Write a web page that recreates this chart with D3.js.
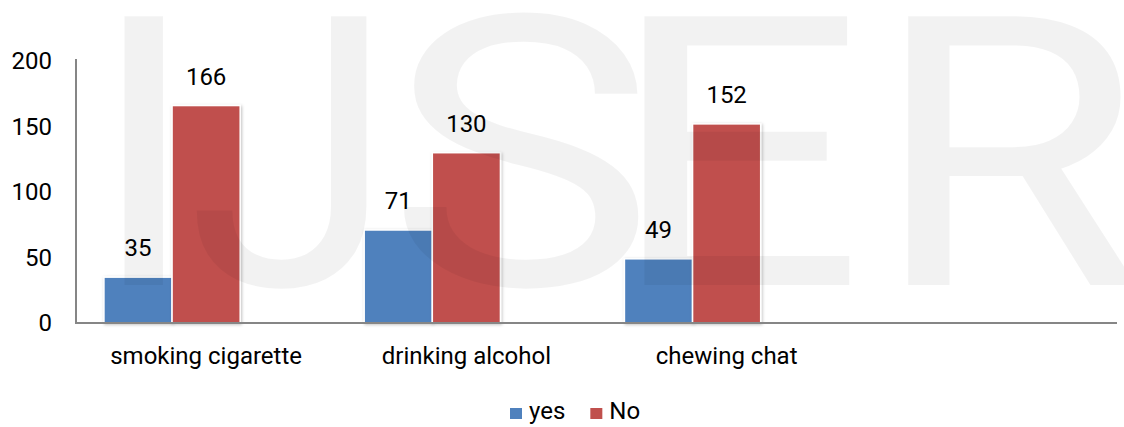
<!DOCTYPE html>
<html>
<head>
<meta charset="utf-8">
<script src="https://cdn.jsdelivr.net/npm/d3@7"></script>
<style>
  body { margin: 0; background: #fff; }
  svg text { font-family: Roboto, "Liberation Sans", sans-serif; }
</style>
</head>
<body>
<svg id="chart" width="1124" height="427"></svg>
<script>
// data
const categories = ['smoking cigarette', 'drinking alcohol', 'chewing chat', ''];
const seriesNames = ['yes', 'No', 'blank'];
const yesValues = [35, 71, 49, null];
const noValues = [166, 130, 152, null];
const blankValues = [null, null, null, null];
const yTicks = [0, 50, 100, 150, 200];
const watermark = ['I', 'J', 'S', 'E', 'R'];

const colors = { yes: '#4f81bd', No: '#c0504d', blank: 'none' };
const seriesValues = { yes: yesValues, No: noValues, blank: blankValues };

const width = 1124, height = 427;
const margin = { top: 61, right: 7, bottom: 104, left: 76 };
const innerwidth = width - margin.left - margin.right;
const innerheight = height - margin.top - margin.bottom;

const svg = d3.select('#chart');

// shadow for bars
const defs = svg.append('defs');
defs.append('filter')
    .attr('id', 'shadow')
    .attr('x', '-10%').attr('y', '-10%')
    .attr('width', '130%').attr('height', '130%')
  .append('feDropShadow')
    .attr('dx', 1).attr('dy', 1)
    .attr('stdDeviation', 1.5)
    .attr('flood-color', '#000')
    .attr('flood-opacity', 0.25);

const g = svg.append('g')
    .attr('transform', `translate(${margin.left},${margin.top})`);

const xScale = d3.scaleBand()
    .domain(categories.map((d, i) => i))
    .range([0, innerwidth]);

const xSub = d3.scaleBand()
    .domain(seriesNames)
    .range([0, xScale.bandwidth()])
    .paddingOuter(0.41);

const yScale = d3.scaleLinear()
    .domain([0, 200])
    .range([innerheight, 0]);

// bars
const rows = [];
seriesNames.forEach(s => {
  seriesValues[s].forEach((v, i) => {
    if (v != null) rows.push({ series: s, cat: i, value: v });
  });
});

g.selectAll('rect.bar').data(rows)
  .enter().append('rect')
    .attr('class', 'bar')
    .attr('x', d => xScale(d.cat) + xSub(d.series))
    .attr('y', d => yScale(d.value))
    .attr('width', xSub.bandwidth())
    .attr('height', d => innerheight - yScale(d.value))
    .attr('fill', d => colors[d.series])
    .attr('stroke', '#fff')
    .attr('stroke-width', 1.5)
    .attr('filter', 'url(#shadow)');

// value labels
g.selectAll('text.value').data(rows)
  .enter().append('text')
    .attr('class', 'value')
    .attr('x', d => xScale(d.cat) + xSub(d.series) + xSub.bandwidth() / 2)
    .attr('y', d => yScale(d.value) - 21)
    .attr('text-anchor', 'middle')
    .attr('font-size', 24)
    .attr('fill', '#000')
    .text(d => d.value);

// y axis
const yAxis = d3.axisLeft(yScale)
    .tickValues(yTicks)
    .tickSize(0)
    .tickPadding(24);

const yAxisG = g.append('g').call(yAxis);
yAxisG.select('.domain').remove();
yAxisG.selectAll('text')
    .attr('font-size', 24)
    .attr('fill', '#000')
    .attr('font-family', 'Roboto');

g.append('line')
    .attr('x1', 0).attr('x2', 0)
    .attr('y1', -2).attr('y2', innerheight)
    .attr('stroke', '#868686')
    .attr('stroke-width', 2);

// x axis
const xAxis = d3.axisBottom(xScale)
    .tickSize(0)
    .tickPadding(24)
    .tickFormat(i => categories[i]);

const xAxisG = g.append('g')
    .attr('transform', `translate(0,${innerheight})`)
    .call(xAxis);
xAxisG.select('.domain').remove();
xAxisG.selectAll('text')
    .attr('font-size', 24)
    .attr('fill', '#000')
    .attr('font-family', 'Roboto');

g.append('line')
    .attr('x1', -1).attr('x2', innerwidth)
    .attr('y1', innerheight).attr('y2', innerheight)
    .attr('stroke', '#868686')
    .attr('stroke-width', 2);

// legend
const legendItems = seriesNames.filter(s => s !== 'blank');
const legend = svg.append('g').attr('transform', 'translate(510,419)');
let lx = 0;
legendItems.forEach(s => {
  const item = legend.append('g').attr('transform', `translate(${lx},0)`);
  item.append('rect')
      .attr('x', 0).attr('y', -11)
      .attr('width', 12).attr('height', 11)
      .attr('fill', colors[s]);
  const t = item.append('text')
      .attr('x', 19).attr('y', 0)
      .attr('font-size', 24)
      .attr('fill', '#000')
      .text(s);
  lx += 19 + t.node().getComputedTextLength() + 25;
});

// watermark on top (letters stretched a bit to match the wide original face)
const wmX = [88, 187, 386, 607, 872];
const wmScale = [1.08, 1, 1.2, 1.2, 1.16];
svg.append('g').selectAll('text.wm').data(watermark)
  .enter().append('text')
    .attr('class', 'wm')
    .attr('transform', (d, i) => `translate(${wmX[i]},285) scale(${wmScale[i]},1)`)
    .attr('font-size', 378)
    .attr('fill', '#000')
    .attr('fill-opacity', 0.05)
    .text(d => d);
</script>
</body>
</html>
